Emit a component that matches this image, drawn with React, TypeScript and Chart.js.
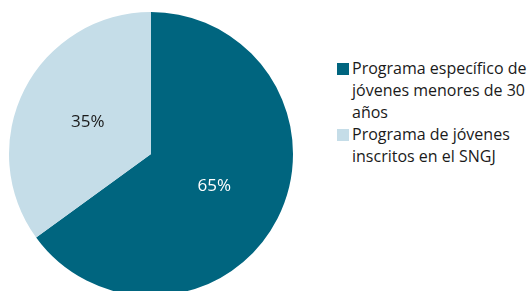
import React, { useEffect, useRef } from "react";
import { Chart, registerables } from "chart.js";

Chart.register(...registerables);

const categories: string[][] = [
  ["Programa específico de", "jóvenes menores de 30", "años"],
  ["Programa de jóvenes", "inscritos en el SNGJ"],
];
const values: number[] = [65, 35];
const colors: string[] = ["#00657F", "#C5DDE8"];
const labelColors: string[] = ["#FFFFFF", "#1A1A1A"];

const FONT = "'Open Sans', 'Noto Sans', sans-serif";

const pctLabels = {
  id: "pctLabels",
  afterDatasetsDraw(chart: any) {
    const ctx = chart.ctx;
    const meta = chart.getDatasetMeta(0);
    const data = chart.data.datasets[0].data as number[];
    const total = data.reduce((a, b) => a + b, 0);
    ctx.save();
    ctx.font = `17px ${FONT}`;
    ctx.textAlign = "center";
    ctx.textBaseline = "middle";
    meta.data.forEach((arc: any, i: number) => {
      const p = arc.tooltipPosition();
      ctx.fillStyle = labelColors[i];
      ctx.fillText(Math.round((data[i] / total) * 100) + "%", p.x, p.y);
    });
    ctx.restore();
  },
};

export default function App() {
  const ref = useRef<HTMLCanvasElement>(null);
  useEffect(() => {
    if (!ref.current) return;
    const chart = new Chart(ref.current, {
      type: "pie",
      data: {
        labels: categories,
        datasets: [
          {
            data: values,
            backgroundColor: colors,
            borderWidth: 0,
          },
        ],
      },
      options: {
        animation: false,
        responsive: false,
        layout: { padding: 9 },
        plugins: {
          legend: { display: false },
          tooltip: { enabled: false },
        },
      },
      plugins: [pctLabels],
    });
    return () => chart.destroy();
  }, []);

  return (
    <div
      style={{
        position: "fixed",
        left: 0,
        top: 0,
        width: 527,
        height: 291,
        overflow: "hidden",
        background: "#fff",
      }}
    >
      <canvas
        ref={ref}
        width={302}
        height={308}
        style={{ position: "absolute", left: 0, top: 0, width: 302, height: 308 }}
      />
      <div
        style={{
          position: "absolute",
          left: 337,
          top: 57,
          fontFamily: FONT,
          fontSize: 16,
          lineHeight: "22px",
          color: "#1A1A1A",
          whiteSpace: "nowrap",
        }}
      >
        {categories.map((lines, i) => (
          <div key={i} style={{ display: "flex", alignItems: "flex-start" }}>
            <span
              style={{
                display: "inline-block",
                width: 12,
                height: 12,
                marginTop: 6,
                marginRight: 3,
                background: colors[i],
                flex: "none",
              }}
            />
            <span>
              {lines.map((l, j) => (
                <React.Fragment key={j}>
                  {l}
                  {j < lines.length - 1 ? <br /> : null}
                </React.Fragment>
              ))}
            </span>
          </div>
        ))}
      </div>
    </div>
  );
}
